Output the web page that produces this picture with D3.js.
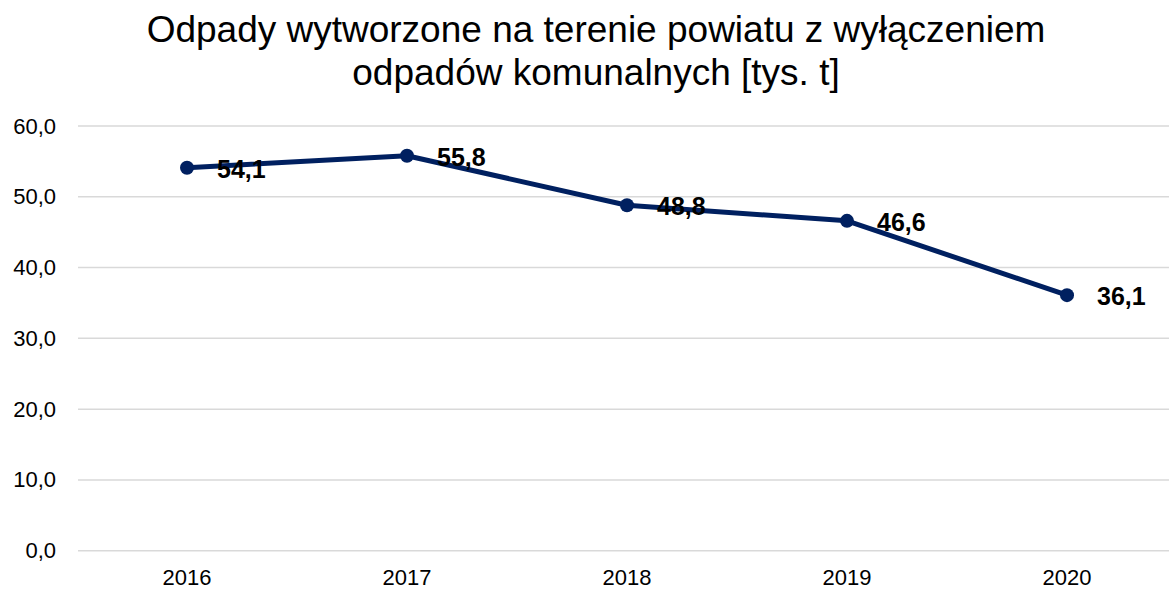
<!DOCTYPE html>
<html>
<head>
<meta charset="utf-8">
<script src="https://cdn.jsdelivr.net/npm/d3@7"></script>
<style>
  body { margin: 0; background: #fff; }
  svg { display: block; font-family: "Liberation Sans", Arial, sans-serif; }
</style>
</head>
<body>
<div class="chart"></div>
<script>
// Chart data
const years = ["2016", "2017", "2018", "2019", "2020"];
const values = [54.1, 55.8, 48.8, 46.6, 36.1];
const yTicks = [0, 10, 20, 30, 40, 50, 60];
const titleLines = ["Odpady wytworzone na terenie powiatu z wyłączeniem", "odpadów komunalnych [tys. t]"];

const width = 1169, height = 590;
const margin = { top: 126, right: -8, bottom: 39, left: 77 };

const svg = d3.select(".chart")
  .append("svg")
  .attr("width", width)
  .attr("height", height);

// Scales
const x = d3.scaleBand()
  .domain(years)
  .range([margin.left, width - margin.right]);

const y = d3.scaleLinear()
  .domain([0, 60])
  .range([height - margin.bottom - 0.3, margin.top]);

const fmt = v => d3.format(".1f")(v).replace(".", ",");

// Gridlines
svg.append("g")
  .selectAll("line")
  .data(yTicks)
  .join("line")
  .attr("x1", margin.left + 1)
  .attr("x2", width)
  .attr("y1", d => y(d))
  .attr("y2", d => y(d))
  .attr("stroke", "#d9d9d9")
  .attr("stroke-width", 1.5);

// Y axis labels
const yAxis = svg.append("g")
  .attr("transform", `translate(${margin.left - 21},0)`)
  .call(d3.axisLeft(y).tickValues(yTicks).tickFormat(fmt).tickSize(0).tickPadding(0));
yAxis.select(".domain").remove();
yAxis.selectAll("text")
  .attr("font-size", 22)
  .attr("font-family", "Liberation Sans, Arial, sans-serif")
  .attr("fill", "#000");

// X axis labels
const xAxis = svg.append("g")
  .attr("transform", `translate(0,${height - margin.bottom})`)
  .call(d3.axisBottom(x).tickSize(0).tickPadding(18));
xAxis.select(".domain").remove();
xAxis.selectAll("text")
  .attr("font-size", 22)
  .attr("font-family", "Liberation Sans, Arial, sans-serif")
  .attr("fill", "#000");

// Line
const cx = d => x(d) + x.bandwidth() / 2;
const line = d3.line()
  .x((d, i) => cx(years[i]))
  .y(d => y(d));

svg.append("path")
  .datum(values)
  .attr("fill", "none")
  .attr("stroke", "#002060")
  .attr("stroke-width", 5)
  .attr("stroke-linejoin", "round")
  .attr("d", line);

// Markers
svg.append("g")
  .selectAll("circle")
  .data(values)
  .join("circle")
  .attr("cx", (d, i) => cx(years[i]))
  .attr("cy", d => y(d))
  .attr("r", 7)
  .attr("fill", "#002060");

// Data labels
svg.append("g")
  .selectAll("text")
  .data(values)
  .join("text")
  .attr("x", (d, i) => cx(years[i]) + 30)
  .attr("y", d => y(d) + 10)
  .attr("font-size", 25)
  .attr("font-weight", "bold")
  .attr("fill", "#000")
  .text(d => fmt(d));

// Title
svg.append("g")
  .selectAll("text")
  .data(titleLines)
  .join("text")
  .attr("x", 596)
  .attr("y", (d, i) => 42 + i * 43)
  .attr("text-anchor", "middle")
  .attr("font-size", 37)
  .attr("fill", "#000")
  .text(d => d);
</script>
</body>
</html>
